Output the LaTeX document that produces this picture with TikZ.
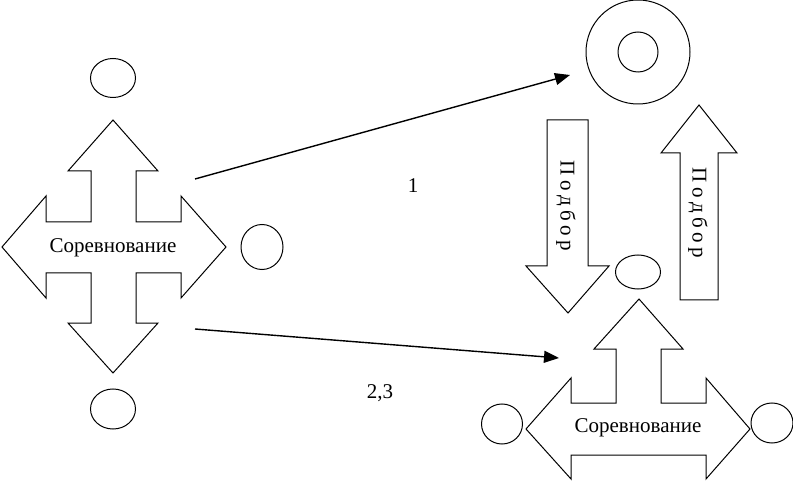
\documentclass[tikz,border=0pt]{standalone}
\usepackage{fontspec}
\setmainfont{Liberation Serif}
\usetikzlibrary{shapes.geometric,arrows.meta}
\tikzset{
  ovale/.style={draw, ellipse, inner sep=0pt},
  texte/.style={font=\fontsize{21}{24}\selectfont, inner sep=0pt},
  vertical/.style={texte, rotate=-90, font=\fontsize{21}{24}\selectfont\addfontfeature{LetterSpace=22}},
  fleche/.style={line width=1.4pt, -{Triangle[length=15pt,width=12pt]}}
}
\begin{document}
\begin{tikzpicture}[x=1pt,y=-1pt, line width=1pt]
    \useasboundingbox (0,0) rectangle (793,481);
    % croix de gauche
    \draw (113,120) -- (158,171) -- (136,171) -- (136,222) -- (181,222) -- (181,196) -- (226,247)
      -- (181,298) -- (181,273) -- (136,273) -- (136,323) -- (158,323) -- (113,373) -- (68,323)
      -- (91,323) -- (91,273) -- (46,273) -- (46,298) -- (2,247) -- (46,196) -- (46,222)
      -- (91,222) -- (91,171) -- (68,171) -- cycle;
    \node[texte] (comp1) at (113,248) {Соревнование};
    % ovales autour de la croix
    \node[ovale, minimum width=45, minimum height=39] (haut1) at (113,78) {};
    \node[ovale, minimum width=42, minimum height=45] (droite1) at (262,247) {};
    \node[ovale, minimum width=45, minimum height=40] (bas1) at (113,409) {};
    % cercles concentriques
    \node[draw, circle, minimum size=104, inner sep=0pt] (cible) at (638,52) {};
    \node[draw, circle, minimum size=40, inner sep=0pt] (centre) at (638,52) {};
    % fleches de liaison
    \coordinate (dep1) at (195,179);
    \coordinate (arr1) at (570,75);
    \coordinate (dep2) at (195,329);
    \coordinate (arr2) at (559,358);
    \draw[fleche] (dep1) -- (arr1);
    \draw[fleche] (dep2) -- (arr2);
    \node[texte] (lab1) at (413,186) {1};
    \node[texte] (lab2) at (380,393) {2,3};
    % fleche vers le bas
    \draw (547,120) -- (588,120) -- (588,266) -- (609,266) -- (568,313) -- (526,266) -- (547,266) -- cycle;
    \node[vertical] (sel1) at (566,206) {Подбор};
    % fleche vers le haut
    \draw (699,105) -- (737,153) -- (718,153) -- (718,300) -- (680,300) -- (680,153) -- (661,153) -- cycle;
    \node[vertical] (sel2) at (698,213) {Подбор};
    % fleche triple en bas
    \draw (639,299) -- (683,349) -- (661,349) -- (661,403) -- (706,403) -- (706,378) -- (750,429)
      -- (706,479) -- (706,455) -- (571,455) -- (571,479) -- (526,429) -- (571,378) -- (571,403)
      -- (616,403) -- (616,349) -- (594,349) -- cycle;
    \node[texte] (comp2) at (638,428) {Соревнование};
    % ovales autour
    \node[ovale, minimum width=45, minimum height=34] (haut2) at (638,272) {};
    \node[ovale, minimum width=41, minimum height=40] (gauche2) at (502,424) {};
    \node[ovale, minimum width=42, minimum height=40] (droite2) at (772,423) {};
\end{tikzpicture}
\end{document}
